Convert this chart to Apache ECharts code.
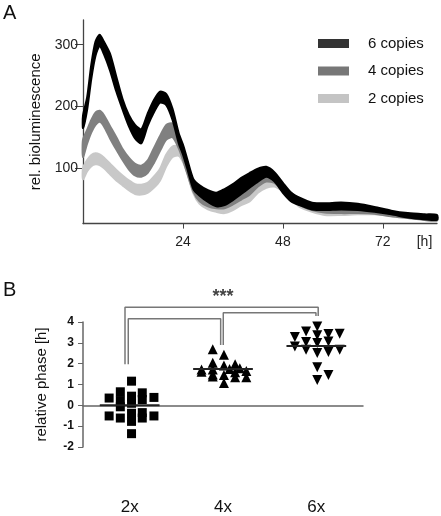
<!DOCTYPE html>
<html><head><meta charset="utf-8">
<script src="https://cdn.jsdelivr.net/npm/echarts@6/dist/echarts.min.js"></script>
<style>html,body{margin:0;padding:0;background:#fff}#c{width:441px;height:516px}</style>
</head><body><div id="c"></div>
<script>
// ---------- Panel A data (hours, band lower/upper edges) ----------
const hours     = [0,1,2,3,4,5,6.5,8,9.5,11,12.5,14,15.5,17,18.5,20,21.5,23,24,25,26.5,28,30,32,34,36,38,40,42,44,46,48,50,52,55,58,62,66,70,74,78,82,85];
const copies6Lo = [165,195,245,282,298,285,258,224,195,168,148,140,168,190,206,202,178,140,122,100,66,55,45,38,40,48,58,68,78,86,78,60,46,40,33,32,33,32,29,25,20,17,16];
const copies6Hi = [185,215,268,305,316,305,285,248,212,186,170,163,188,210,224,220,196,156,138,115,82,72,64,60,66,74,84,92,99,102,93,76,60,52,44,43,44,42,37,31,27,25,24];
const copies4Lo = [118,140,158,170,175,168,148,130,113,98,88,86,92,108,128,146,150,132,113,92,62,46,38,35,35,41,49,57,70,78,76,62,50,40,32,28,27,27,26,22,19,16,15];
const copies4Hi = [146,162,178,190,193,186,168,150,131,117,107,104,112,132,152,170,172,152,130,108,76,56,46,43,43,49,58,68,81,89,86,72,60,49,40,36,35,35,33,28,25,22,21];
const copies2Lo = [82,95,103,106,105,100,90,80,72,64,58,57,60,68,80,103,118,120,110,92,59,42,33,29,27,32,40,46,60,68,70,62,50,37,29,24,24,25,25,22,19,16,15];
const copies2Hi = [100,113,121,124,122,117,107,97,88,80,74,73,76,86,99,122,135,136,128,108,70,50,40,36,36,42,50,57,71,79,81,72,59,44,36,31,32,33,32,28,25,22,21];
const yTicksA = [100,200,300];
const xTicksA = [24,48,72];

// ---------- Panel B data ----------
const groupsB = ['2x','4x','6x'];
const phase2x = [[0.52,1.16],[0.40,0.65],[0.635,0.60],[0.28,0.35],[0.52,0.44],[0.76,0.38],[0.635,0.28],[0.40,0.23],[0.52,0.10],[0.40,-0.07],[0.28,-0.51],[0.40,-0.61],[0.52,-0.38],[0.635,-0.35],[0.635,-0.61],[0.76,-0.51],[0.52,-0.77],[0.52,-1.36]];
const phase4x = [[1.39,2.69],[1.51,2.43],[1.39,2.04],[1.51,1.91],[1.63,1.97],[1.27,1.72],[1.27,1.61],[1.39,1.72],[1.57,1.75],[1.68,1.78],[1.63,1.59],[1.75,1.65],[1.39,1.48],[1.39,1.38],[1.51,1.46],[1.63,1.35],[1.75,1.35],[1.51,1.07]];
const phase6x = [[2.39,4.01],[2.51,3.79],[2.39,3.55],[2.51,3.37],[2.63,3.42],[2.75,3.44],[2.27,3.28],[2.39,3.04],[2.51,2.99],[2.63,3.07],[2.27,2.83],[2.39,2.67],[2.51,2.51],[2.63,2.56],[2.75,2.67],[2.51,1.83],[2.63,1.46],[2.51,1.22]];
const medians = [0, 1.75, 2.85];
const brackets = [
  [[0.45,1.97],[0.45,4.71],[2.52,4.71],[2.52,4.29]],
  [[0.485,1.97],[0.485,4.16],[1.475,4.16],[1.475,2.90]],
  [[1.503,2.90],[1.503,4.45],[2.496,4.45],[2.496,4.29]]
];
const sigLabel = {pos:[1.5,5.2], text:'***'};

const FONT = 'Liberation Sans, Arial, Helvetica, sans-serif';
const chart = echarts.init(document.getElementById('c'), null, {renderer:'canvas'});

const bandDefs = [
  {name:'2 copies', lo:copies2Lo, hi:copies2Hi, color:'#c8c8c8', legend:'#c4c4c4'},
  {name:'4 copies', lo:copies4Lo, hi:copies4Hi, color:'#808080', legend:'#777777'},
  {name:'6 copies', lo:copies6Lo, hi:copies6Hi, color:'#000000', legend:'#333333'}
];
const series = [];
bandDefs.forEach((b, k) => {
  series.push({type:'custom', name:b.name, xAxisIndex:0, yAxisIndex:0, silent:true, z:2+k,
    itemStyle:{color:b.color},
    data: hours.map((h,i)=>[h, b.lo[i], b.hi[i]]),
    encode:{x:0, y:[1,2]},
    renderItem:(params, api) => {
      if (params.dataIndex !== 0) return null;
      const up = hours.map((h,i)=>api.coord([h, b.hi[i]]));
      const dn = hours.map((h,i)=>api.coord([h, b.lo[i]])).reverse();
      return {type:'polygon', shape:{points: up.concat(dn), smooth:0.25},
          style:{fill:b.color, stroke:b.color, lineWidth:2, lineJoin:'round'}};
    }
  });
});

const ptsDefs = [
  {d:phase2x, sym:'rect', size:9, rot:0},
  {d:phase4x, sym:'triangle', size:10, rot:0},
  {d:phase6x, sym:'triangle', size:10, rot:180}
];
ptsDefs.forEach(p => series.push({type:'scatter', xAxisIndex:2, yAxisIndex:1, data:p.d, symbol:p.sym, symbolSize:p.size, symbolRotate:p.rot,
  itemStyle:{color:'#000', opacity:1}, silent:true, z:5}));
medians.forEach((m, i) => series.push({type:'line', xAxisIndex:2, yAxisIndex:1, symbol:'none', silent:true,
  data:[[i+0.18, m],[i+0.82, m]], lineStyle:{color:'#222', width:2}, z:6}));
brackets.forEach(br => series.push({type:'line', xAxisIndex:2, yAxisIndex:1, symbol:'none', silent:true, clip:false,
  data:br, lineStyle:{color:'#777', width:1.5}, z:4}));
series.push({type:'scatter', xAxisIndex:2, yAxisIndex:1, symbolSize:0, silent:true, clip:false, data:[sigLabel.pos],
  label:{show:true, position:'inside', formatter:sigLabel.text, fontSize:18, fontWeight:'bold', color:'#111', fontFamily:FONT}});

chart.setOption({
  animation:false,
  textStyle:{fontFamily:FONT},
  graphic:[
    {type:'text', left:3, top:3, style:{text:'A', fontSize:20, fill:'#111', fontFamily:FONT}},
    {type:'text', left:3, top:280, style:{text:'B', fontSize:20, fill:'#111', fontFamily:FONT}}
  ],
  legend:{
    orient:'vertical', left:318, top:36, padding:0, itemWidth:31, itemHeight:9, itemGap:12.5, icon:'rect', selectedMode:false,
    textStyle:{fontSize:15, color:'#111', fontFamily:FONT, padding:[0,0,0,14]},
    data: [...bandDefs].reverse().map(b=>({name:b.name, icon:'rect', itemStyle:{color:b.legend}}))
  },
  grid:[
    {left:83, top:20, width:354, height:203.6},
    {left:83, top:322, width:280, height:186}
  ],
  xAxis:[
    {type:'value', gridIndex:0, min:0, max:85,
      axisLine:{onZero:false, lineStyle:{color:'#444', width:1.3}},
      axisTick:{customValues:xTicksA, length:5, lineStyle:{color:'#444'}},
      axisLabel:{customValues:[...xTicksA, 82], formatter:v=> v===82?'[h]':String(v), fontSize:14, color:'#222', margin:12},
      splitLine:{show:false}},
    {type:'category', gridIndex:1, data:groupsB, position:'bottom',
      axisLine:{onZero:true, lineStyle:{color:'#666', width:1.5}},
      axisTick:{alignWithLabel:true, length:4, lineStyle:{color:'#666'}},
      axisLabel:{fontSize:17, color:'#111', margin:52},
      splitLine:{show:false}},
    {type:'value', gridIndex:1, min:0, max:3, show:false}
  ],
  yAxis:[
    {type:'value', gridIndex:0, min:10, max:340, name:'rel. bioluminescence', nameLocation:'middle', nameGap:40,
      nameTextStyle:{fontSize:15, color:'#111'},
      axisLine:{show:true, onZero:false, lineStyle:{color:'#444', width:1.3}},
      axisTick:{show:true, customValues:yTicksA, length:8, lineStyle:{color:'#444'}},
      axisLabel:{customValues:yTicksA, fontSize:14, color:'#222', margin:5},
      splitLine:{show:false}},
    {type:'value', gridIndex:1, min:-2, max:4, interval:1, name:'relative phase [h]', nameLocation:'middle', nameGap:34,
      nameTextStyle:{fontSize:15, color:'#111'},
      axisLine:{show:true, onZero:false, lineStyle:{color:'#666', width:1.5}},
      axisTick:{show:true, length:5, lineStyle:{color:'#666'}},
      axisLabel:{fontSize:12, fontWeight:'bold', color:'#111', margin:9},
      splitLine:{show:false}}
  ],
  series
});
</script></body></html>
